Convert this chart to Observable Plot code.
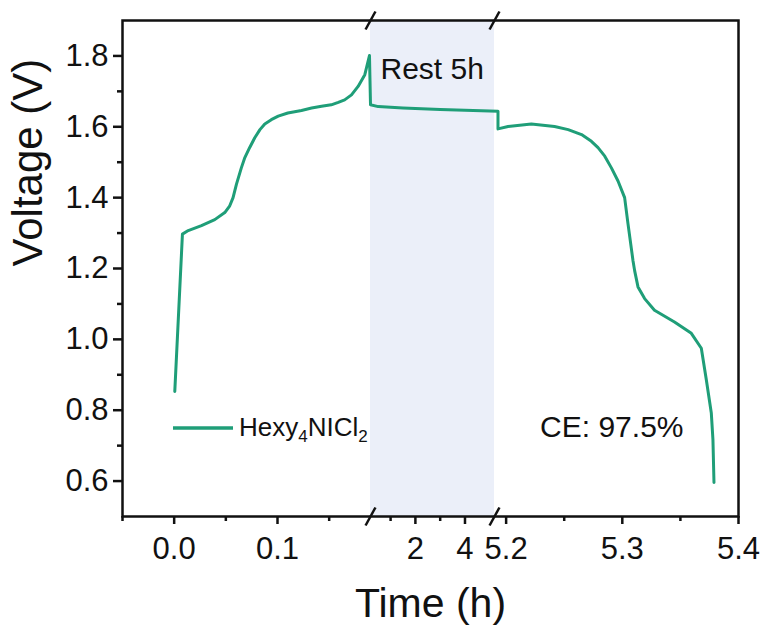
<!DOCTYPE html>
<html>
<head>
<meta charset="utf-8">
<script src="https://cdn.jsdelivr.net/npm/d3@7"></script>
<script src="https://cdn.jsdelivr.net/npm/@observablehq/plot@0.6"></script>
<style>
  html, body { margin: 0; padding: 0; background: #fff; }
  #wrap { position: relative; width: 765px; height: 629px; font-family: "Liberation Sans", Arial, sans-serif; }
  #legend { position: absolute; left: 172px; top: 412px; display: flex; align-items: center; font-size: 26px; color: #111; white-space: nowrap; }
  #legend sub { font-size: 17px; vertical-align: -6px; line-height: 0; }
</style>
</head>
<body>
<div id="wrap"></div>
<script>
// ---- data ----
const chargeT = [0.0006, 0.008, 0.0136, 0.0264, 0.0393, 0.049, 0.0538, 0.057, 0.0603, 0.065, 0.0684, 0.073, 0.078, 0.083, 0.0877, 0.094, 0.1007, 0.110, 0.1232, 0.133, 0.1426, 0.152, 0.1588, 0.165, 0.1716, 0.178, 0.1845, 0.189];
const chargeV = [0.853, 1.297, 1.307, 1.321, 1.338, 1.358, 1.377, 1.400, 1.438, 1.484, 1.513, 1.541, 1.569, 1.592, 1.608, 1.620, 1.630, 1.639, 1.646, 1.653, 1.658, 1.662, 1.669, 1.676, 1.690, 1.714, 1.747, 1.801];
const restT = [0.19, 0.5, 1.5, 3.0, 5.193];
const restV = [1.662, 1.657, 1.653, 1.649, 1.644];
const dischargeT = [5.193, 5.2017, 5.2217, 5.2417, 5.2534, 5.2649, 5.2734, 5.2791, 5.2849, 5.2906, 5.2963, 5.302, 5.3049, 5.3092, 5.3106, 5.3135, 5.3192, 5.3277, 5.3449, 5.3594, 5.368, 5.3723, 5.3766, 5.378, 5.3789];
const dischargeV = [1.594, 1.601, 1.608, 1.601, 1.592, 1.578, 1.559, 1.541, 1.517, 1.484, 1.447, 1.400, 1.326, 1.222, 1.194, 1.148, 1.115, 1.082, 1.049, 1.017, 0.975, 0.886, 0.792, 0.717, 0.596];

const seriesName = "Hexy4NICl2";
const restLabel = "Rest 5h";
const ceLabel = "CE: 97.5%";

// axis breaks (h): charge ends, rest ends
const breaks = [0.19, 5.19];
const xDomainEnds = [-0.05, 5.4];
const yDomain = [0.5, 1.9];

const xMajorTicks = [0.0, 0.1, 2, 4, 5.2, 5.3, 5.4];
const xMajorLabels = ["0.0", "0.1", "2", "4", "5.2", "5.3", "5.4"];
const xMinorTicks = [-0.05, 0.05, 0.15, 1, 3, 5.25, 5.35];
const yMajorTicks = [0.6, 0.8, 1.0, 1.2, 1.4, 1.6, 1.8];
const yMinorTicks = [0.7, 0.9, 1.1, 1.3, 1.5, 1.7];

// ---- build table ----
const curve = [
  ...chargeT.map((t, i) => ({t, v: chargeV[i]})),
  ...restT.map((t, i) => ({t, v: restV[i]})),
  ...dischargeT.map((t, i) => ({t, v: dischargeV[i]}))
];

const W = 765, H = 629;
const mL = 122, mR = 27, mT = 20, mB = 113;
const plotW = W - mL - mR;
// fractions of the frame width given to each axis segment
const segFrac = [0.4026, 0.2013, 0.3961];
const xRange = [mL, mL + plotW * segFrac[0], mL + plotW * (segFrac[0] + segFrac[1]), W - mR];
const xDomain = [xDomainEnds[0], breaks[0], breaks[1], xDomainEnds[1]];

const green = "#1f9e78";
const labelFmt = d => xMajorLabels[xMajorTicks.indexOf(d)];

const slash = {
  draw(context, size) {
    const r = Math.sqrt(size / Math.PI);
    context.moveTo(-r * 0.55, r);
    context.lineTo(r * 0.55, -r);
  }
};
const breakMarks = breaks.flatMap(b => yDomain.map(y => ({t: b, v: y})));

const chart = Plot.plot({
  width: W,
  height: H,
  marginLeft: mL,
  marginRight: mR,
  marginTop: mT,
  marginBottom: mB,
  style: {fontFamily: "Liberation Sans, Arial, sans-serif", fontSize: "31px", color: "#111", background: "white", overflow: "visible"},
  x: {type: "linear", domain: xDomain, range: xRange},
  y: {domain: yDomain},
  marks: [
    Plot.rect([breaks], {x1: d => d[0], x2: d => d[1], fill: "#ebeff9"}),
    Plot.line(curve, {x: "t", y: "v", stroke: green, strokeWidth: 3}),
    Plot.frame({stroke: "#111", strokeWidth: 2.5}),
    Plot.axisY(yMajorTicks, {tickSize: 9, tickPadding: 5, tickFormat: d => d.toFixed(1), fontSize: 31, label: null, strokeWidth: 2.5}),
    Plot.axisY(yMinorTicks, {tickSize: 5, fill: "none", label: null, strokeWidth: 2.5}),
    Plot.axisX(xMajorTicks, {tickSize: 8, tickPadding: 12, tickFormat: labelFmt, fontSize: 31, label: null, strokeWidth: 2.5}),
    Plot.axisX(xMinorTicks, {tickSize: 5, fill: "none", label: null, strokeWidth: 2.5}),
    Plot.dot(breakMarks, {x: "t", y: "v", r: 9, symbol: slash, stroke: "#111", strokeWidth: 2.5, fill: "none"}),
    Plot.text([restLabel], {x: () => breaks[0], frameAnchor: "top", textAnchor: "start", lineAnchor: "top", dx: 10, dy: 37, fontSize: 30, fill: "#111"}),
    Plot.text([ceLabel], {frameAnchor: "bottom-right", textAnchor: "end", lineAnchor: "bottom", dx: -55, dy: -80, fontSize: 30, fill: "#111"}),
    Plot.text(["Voltage (V)"], {frameAnchor: "left", rotate: -90, dx: -94, dy: -2, fontSize: 42, fill: "#111"}),
    Plot.text(["Time (h)"], {frameAnchor: "bottom", lineAnchor: "middle", dy: 87, fontSize: 41, fill: "#111"})
  ]
});

const wrap = document.getElementById("wrap");
wrap.appendChild(chart);

// legend (inside the plot area, as in the reference)
const legend = document.createElement("div");
legend.id = "legend";
const m = seriesName.match(/^(Hexy)(\d)(NICl)(\d)$/);
legend.innerHTML = `<svg width="62" height="10" style="margin-right:5px"><line x1="1" x2="61" y1="5" y2="5" stroke="${green}" stroke-width="3.5"/></svg><span>${m[1]}<sub>${m[2]}</sub>${m[3]}<sub>${m[4]}</sub></span>`;
wrap.appendChild(legend);
</script>
</body>
</html>
